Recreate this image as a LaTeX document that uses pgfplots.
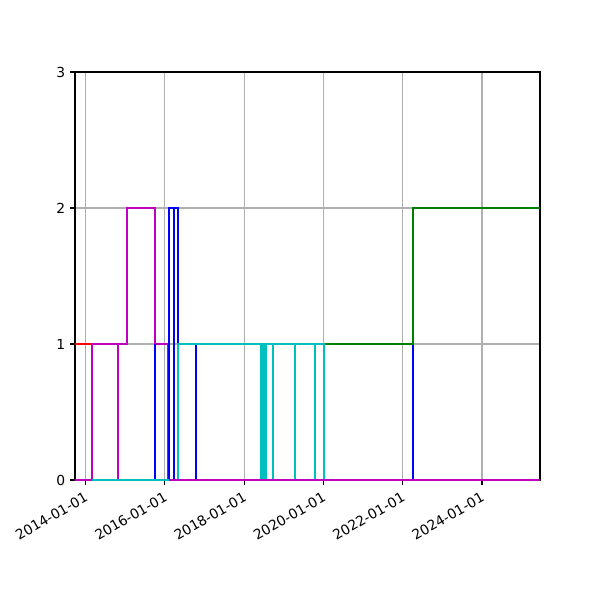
\documentclass[border=0pt]{standalone}
\usepackage{fontspec}
\setmainfont{DejaVu Sans}
\usepackage{pgfplots}
\pgfplotsset{compat=1.18}

\definecolor{mred}{rgb}{1,0,0}
\definecolor{mmagenta}{rgb}{0.75,0,0.75}
\definecolor{mblue}{rgb}{0,0,1}
\definecolor{mcyan}{rgb}{0,0.75,0.75}
\definecolor{mgreen}{rgb}{0,0.5,0}
\definecolor{gridgray}{rgb}{0.690196,0.690196,0.690196}

\begin{document}
\begin{tikzpicture}
% page is 600x600 px, 1px = 0.7227pt
\useasboundingbox (-54.2pt,-86.72pt) rectangle (379.42pt,346.9pt);
\begin{axis}[
  at={(0pt,0pt)}, anchor=south west,
  scale only axis,
  width=336.06pt, height=294.86pt,
  xmin=2013.735, xmax=2025.463,
  ymin=0, ymax=3,
  xtick={2014,2016,2018,2020,2022,2024},
  xticklabels={2014-01-01,2016-01-01,2018-01-01,2020-01-01,2022-01-01,2024-01-01},
  ytick={0,1,2,3},
  xmajorgrids, ymajorgrids,
  grid style={gridgray, line width=0.8pt},
  axis line style={black, line width=0.8pt},
  tick align=outside, tick pos=left,
  major tick length=3.5pt,
  tick style={black, line width=0.8pt},
  xticklabel style={rotate=30, anchor=north east, font=\fontsize{10}{12}\selectfont},
  yticklabel style={font=\fontsize{10}{12}\selectfont},
  /pgf/number format/assume math mode=true,
  every axis plot/.append style={line width=1.5pt, mark=none},
]
% red
\addplot [mred] coordinates {(2013.70,1) (2014.164,1)};
% magenta
\addplot [mmagenta] coordinates {(2014.164,0) (2014.164,1) (2015.042,1) (2015.042,2) (2015.749,2) (2015.749,1) (2016.094,1) (2016.094,0)};
\addplot [mmagenta] coordinates {(2014.825,0) (2014.825,1)};
% blue
\addplot [mblue] coordinates {(2015.749,1) (2015.749,0)};
\addplot [mblue] coordinates {(2016.112,0) (2016.112,2) (2016.339,2) (2016.339,1)};
\addplot [mblue] coordinates {(2016.238,0) (2016.238,2)};
\addplot [mblue] coordinates {(2016.776,0) (2016.776,1)};
\addplot [mblue] coordinates {(2022.259,0) (2022.259,1)};
% cyan
\addplot [mcyan] coordinates {(2016.339,0) (2016.339,1) (2020.048,1)};
\addplot [mcyan] coordinates {(2018.42,0) (2018.42,1)};
\addplot [mcyan] coordinates {(2018.46,0) (2018.46,1)};
\addplot [mcyan] coordinates {(2018.50,0) (2018.50,1)};
\addplot [mcyan] coordinates {(2018.54,0) (2018.54,1)};
\addplot [mcyan] coordinates {(2018.719,0) (2018.719,1)};
\addplot [mcyan] coordinates {(2019.274,0) (2019.274,1)};
\addplot [mcyan] coordinates {(2019.796,0) (2019.796,1)};
\addplot [mcyan] coordinates {(2020.013,0) (2020.013,1)};
% green
\addplot [mgreen] coordinates {(2020.048,1) (2022.259,1) (2022.259,2) (2025.5,2)};
% baseline
\addplot [mmagenta] coordinates {(2013.70,0) (2025.5,0)};
\addplot [mcyan] coordinates {(2014.164,0) (2016.094,0)};
\end{axis}
\end{tikzpicture}
\end{document}
